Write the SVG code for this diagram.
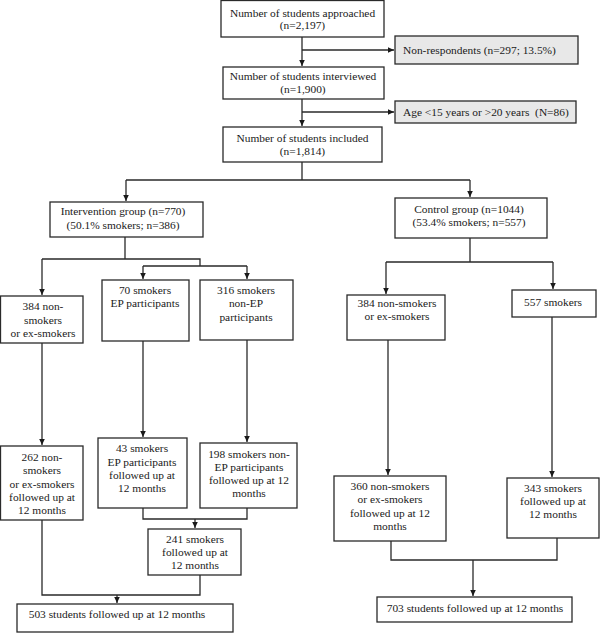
<svg xmlns="http://www.w3.org/2000/svg" width="600" height="633" viewBox="0 0 600 633">
<style>
.b{fill:#fff;stroke:#2a2a2a;stroke-width:1.3}
.g{fill:#e8e8e8;stroke:#2a2a2a;stroke-width:1.3}
text{font-family:"Liberation Serif","Times New Roman",serif;font-size:11.4px;fill:#1a1a1a;text-anchor:middle}
text.l{text-anchor:start;white-space:pre}
.c path{fill:none;stroke:#2a2a2a;stroke-width:1.3}
</style>
<defs>
<marker id="a" markerUnits="userSpaceOnUse" markerWidth="8" markerHeight="8" refX="6" refY="4" orient="auto">
<path d="M0,1.2 L6,4 L0,6.8 Z" fill="#1a1a1a"/>
</marker>
</defs>
<rect width="600" height="633" fill="#fff"/>
<g class="c" id="connectors">
<path d="M302,37 V66" marker-end="url(#a)"/>
<path d="M302,50 H394" marker-end="url(#a)"/>
<path d="M302,99 V126" marker-end="url(#a)"/>
<path d="M302,112 H394" marker-end="url(#a)"/>
<path d="M302,162 V180 M126,180 H470"/>
<path d="M126,180 V201" marker-end="url(#a)"/>
<path d="M470,180 V197" marker-end="url(#a)"/>
<path d="M125,237 V259 M42,259 H200 V266 M143,266 H247"/>
<path d="M42,259 V295" marker-end="url(#a)"/>
<path d="M143,266 V279" marker-end="url(#a)"/>
<path d="M247,266 V279" marker-end="url(#a)"/>
<path d="M42,343 V445" marker-end="url(#a)"/>
<path d="M143,341 V437" marker-end="url(#a)"/>
<path d="M247,340 V442" marker-end="url(#a)"/>
<path d="M143,508 V519 H247 V508"/>
<path d="M195,519 V528" marker-end="url(#a)"/>
<path d="M42,520 V595 H200 V575"/>
<path d="M117,595 V603" marker-end="url(#a)"/>
<path d="M470,238 V262 M386,262 H553"/>
<path d="M386,262 V294" marker-end="url(#a)"/>
<path d="M553,262 V289" marker-end="url(#a)"/>
<path d="M388,340 V475" marker-end="url(#a)"/>
<path d="M552,317 V477" marker-end="url(#a)"/>
<path d="M391,541 V560 H557 V538"/>
<path d="M473,560 V596" marker-end="url(#a)"/>
</g>
<g id="approached"><rect class="b" x="221" y="0.5" width="163" height="36.5"/><text x="302.5" y="17">Number of students approached</text><text x="302.5" y="29">(n=2,197)</text></g>
<g id="nonrespondents"><rect class="g" x="395" y="36" width="183" height="28"/><text class="l" x="403" y="54">Non-respondents (n=297; 13.5%)</text></g>
<g id="interviewed"><rect class="b" x="223" y="67" width="161" height="32"/><text x="303" y="80">Number of students interviewed</text><text x="303" y="93">(n=1,900)</text></g>
<g id="age"><rect class="g" x="395" y="101" width="181" height="22"/><text class="l" x="403" y="116">Age &lt;15 years or &gt;20 years  (N=86)</text></g>
<g id="included"><rect class="b" x="223" y="127" width="159" height="35"/><text x="302.5" y="142">Number of students included</text><text x="302.5" y="155">(n=1,814)</text></g>
<g id="intervention"><rect class="b" x="50" y="202" width="153" height="35"/><text x="123" y="215">Intervention group (n=770)</text><text x="123" y="229">(50.1% smokers; n=386)</text></g>
<g id="control"><rect class="b" x="395" y="198" width="152" height="40"/><text x="469" y="213">Control group (n=1044)</text><text x="469" y="226">(53.4% smokers; n=557)</text></g>
<g id="int-nonsmokers"><rect class="b" x="0.5" y="296" width="82.5" height="47"/><text x="43" y="310">384 non-</text><text x="43" y="324">smokers</text><text x="43" y="337">or ex-smokers</text></g>
<g id="ep"><rect class="b" x="102" y="280" width="87" height="61"/><text x="145" y="294">70 smokers</text><text x="145" y="307">EP participants</text></g>
<g id="nonep"><rect class="b" x="200" y="280" width="93" height="60"/><text x="246" y="294">316 smokers</text><text x="246" y="307">non-EP</text><text x="246" y="321">participants</text></g>
<g id="ctl-nonsmokers"><rect class="b" x="347" y="295" width="98" height="45"/><text x="397" y="307">384 non-smokers</text><text x="397" y="320">or ex-smokers</text></g>
<g id="ctl-smokers"><rect class="b" x="512" y="290" width="84" height="27"/><text x="553" y="306">557 smokers</text></g>
<g id="int-nonsmokers-fu"><rect class="b" x="0.5" y="446" width="82.5" height="74"/><text x="42" y="461">262 non-</text><text x="42" y="474">smokers</text><text x="42" y="488">or ex-smokers</text><text x="42" y="501">followed up at</text><text x="42" y="514">12 months</text></g>
<g id="ep-fu"><rect class="b" x="98" y="438" width="89" height="70"/><text x="142" y="452">43 smokers</text><text x="142" y="466">EP participants</text><text x="142" y="479">followed up at</text><text x="142" y="492">12 months</text></g>
<g id="nonep-fu"><rect class="b" x="200" y="443" width="97" height="65"/><text x="249" y="458">198 smokers non-</text><text x="249" y="471">EP participants</text><text x="249" y="484">followed up at 12</text><text x="249" y="497">months</text></g>
<g id="smokers-fu"><rect class="b" x="148" y="529" width="93" height="46"/><text x="195" y="543">241 smokers</text><text x="195" y="556">followed up at</text><text x="195" y="569">12 months</text></g>
<g id="int-total"><rect class="b" x="17" y="604" width="216" height="28"/><text x="117" y="618">503 students followed up at 12 months</text></g>
<g id="ctl-nonsmokers-fu"><rect class="b" x="334" y="476" width="112" height="65"/><text x="390" y="490">360 non-smokers</text><text x="390" y="503">or ex-smokers</text><text x="390" y="517">followed up at 12</text><text x="390" y="530">months</text></g>
<g id="ctl-smokers-fu"><rect class="b" x="507" y="478" width="92" height="60"/><text x="553" y="492">343 smokers</text><text x="553" y="505">followed up at</text><text x="553" y="518">12 months</text></g>
<g id="ctl-total"><rect class="b" x="377" y="597" width="195" height="25"/><text x="475" y="612">703 students followed up at 12 months</text></g>
</svg>
